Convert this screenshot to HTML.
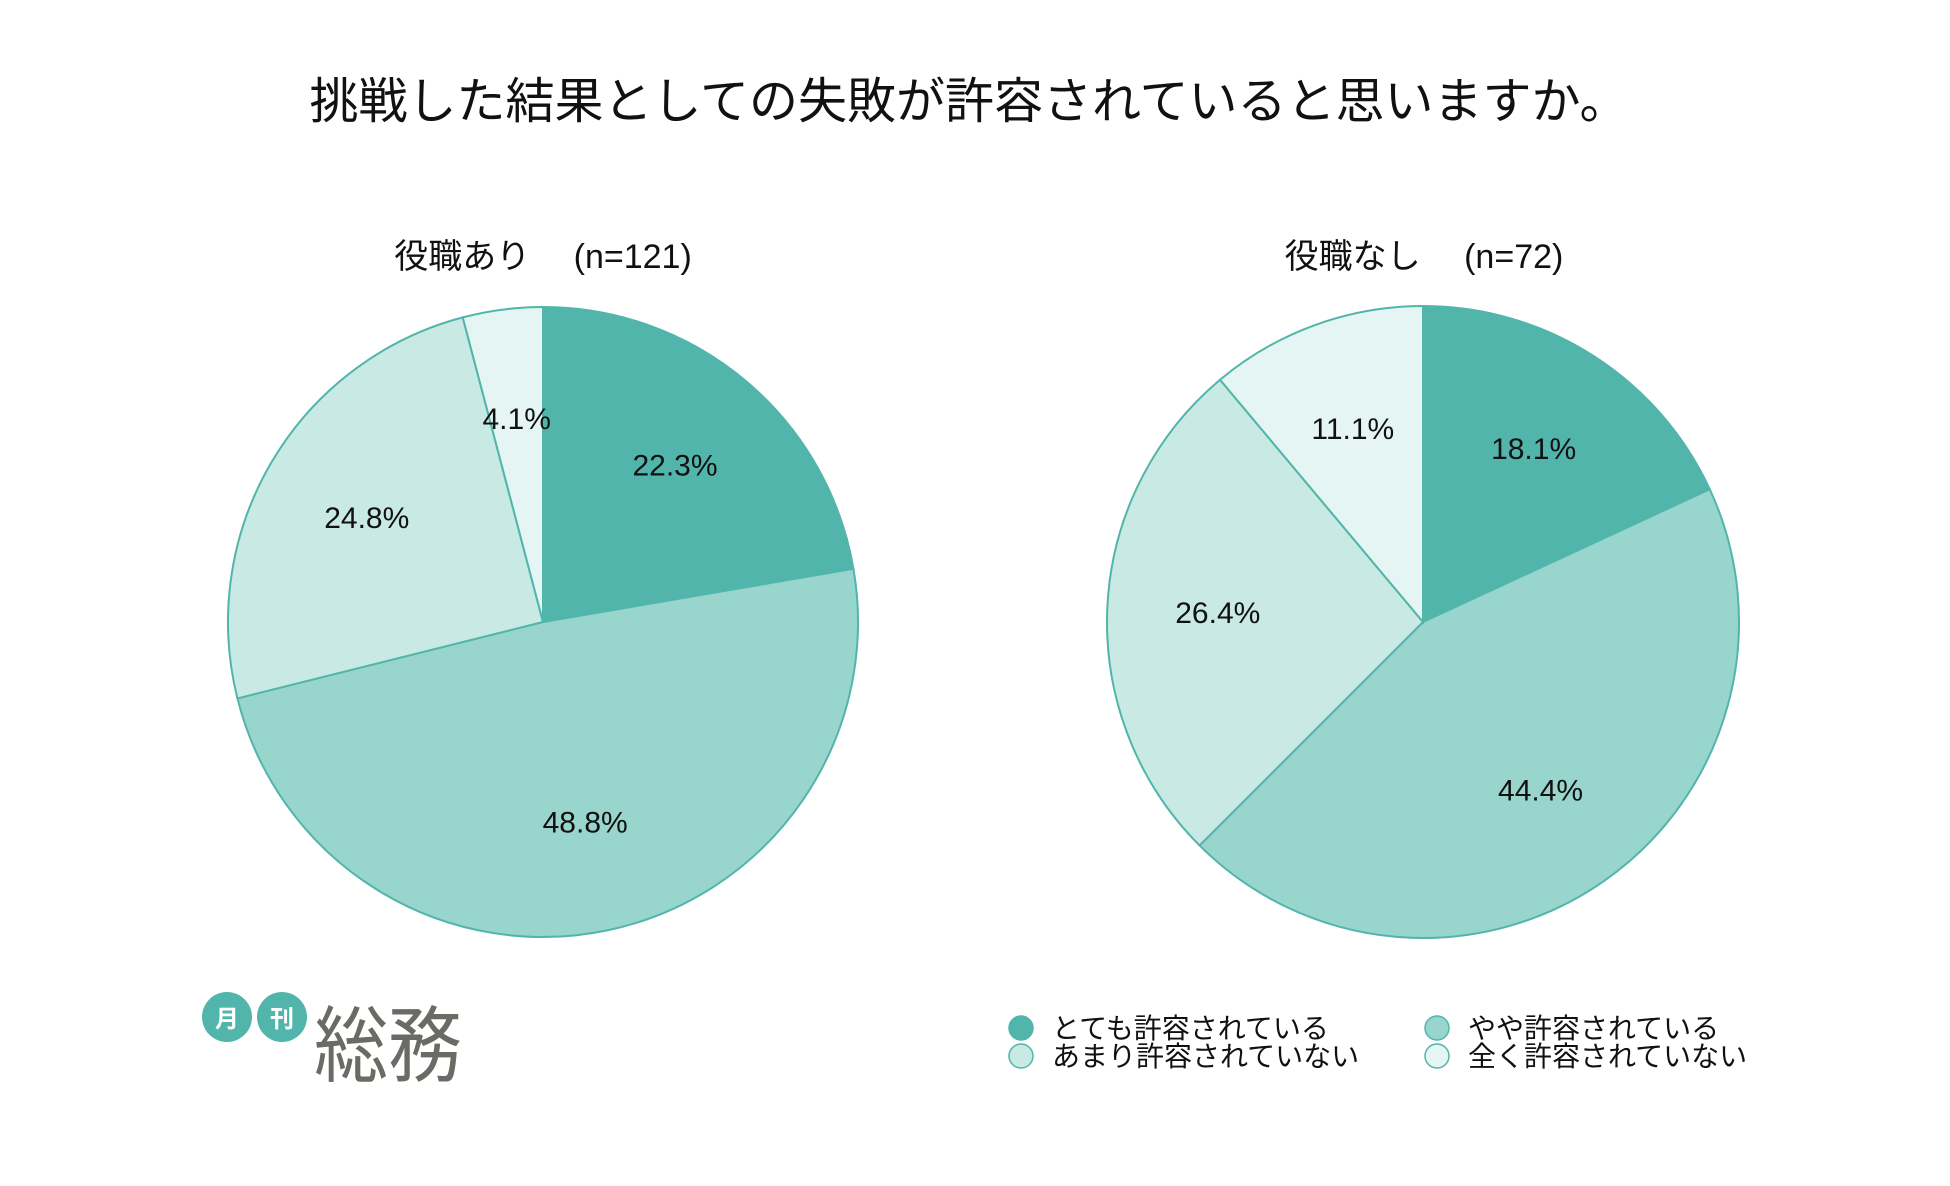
<!DOCTYPE html>
<html><head><meta charset="utf-8">
<style>
html,body{margin:0;padding:0;background:#fff;}
body{width:1950px;height:1186px;position:relative;overflow:hidden;font-family:"Liberation Sans","Noto Sans CJK JP",sans-serif;}
svg{position:absolute;left:0;top:0;}
</style></head>
<body>
<svg id="chart" width="1950" height="1186" viewBox="0 0 1950 1186">
  <text x="969" y="118" text-anchor="middle" font-size="49" fill="#111">挑戦した結果としての失敗が許容されていると思いますか。</text>
  <text x="543" y="268" text-anchor="middle" font-size="34" fill="#111">役職あり　 (n=121)</text>
  <text x="1424" y="268" text-anchor="middle" font-size="34" fill="#111">役職なし　 (n=72)</text>
  <g id="pies"></g>
  <g id="legend"></g>
  <g>
    <circle cx="227" cy="1017" r="25" fill="#52b5ab"/>
    <text x="227" y="1027" text-anchor="middle" font-size="24" font-weight="bold" fill="#fff">月</text>
    <circle cx="282" cy="1017" r="25" fill="#52b5ab"/>
    <text x="282" y="1027" text-anchor="middle" font-size="24" font-weight="bold" fill="#fff">刊</text>
    <text x="314" y="1076" font-size="74" fill="#6b6b66" transform="translate(0,-130) scale(1,1.12)">総務</text>
  </g>
</svg>
<script>
const categories = ["とても許容されている","やや許容されている","あまり許容されていない","全く許容されていない"];
const leftValues = [22.3, 48.8, 24.8, 4.1];
const rightValues = [18.1, 44.4, 26.4, 11.1];
const colors = ["#52b5ab","#98d5cc","#c8e9e4","#e5f5f3"];
const NS = "http://www.w3.org/2000/svg";
const pies = document.getElementById('pies');
function drawPie(values, cx, cy, r, name){
  const g = document.createElementNS(NS,'g');
  
  
  const total = values.reduce((a,b)=>a+b,0);
  let a0 = 0;
  values.forEach((v,i)=>{
    const a1 = a0 + v/total*2*Math.PI;
    const x0 = cx + r*Math.sin(a0), y0 = cy - r*Math.cos(a0);
    const x1 = cx + r*Math.sin(a1), y1 = cy - r*Math.cos(a1);
    const large = (a1-a0) > Math.PI ? 1 : 0;
    const p = document.createElementNS(NS,'path');
    p.setAttribute('d', `M${cx},${cy} L${x0},${y0} A${r},${r} 0 ${large} 1 ${x1},${y1} Z`);
    p.setAttribute('fill', colors[i]);
    p.setAttribute('stroke', '#52b5ab');
    p.setAttribute('stroke-width', '2');
    
    
    g.appendChild(p);
    const am = (a0+a1)/2;
    const t = document.createElementNS(NS,'text');
    t.setAttribute('x', cx + 0.65*r*Math.sin(am));
    t.setAttribute('y', cy - 0.65*r*Math.cos(am) + 10);
    t.setAttribute('text-anchor','middle');
    t.setAttribute('font-size','30');
    t.setAttribute('fill','#111');
    
    
    t.textContent = v.toFixed(1) + '%';
    g.appendChild(t);
    a0 = a1;
  });
  pies.appendChild(g);
}
drawPie(leftValues, 543, 622, 315, 'left-pie');
drawPie(rightValues, 1423, 622, 316, 'right-pie');
const legend = document.getElementById('legend');
const lx = [1021, 1437], ly = [1028, 1056];
categories.forEach((c,i)=>{
  const x = lx[i%2], y = ly[Math.floor(i/2)];
  const dot = document.createElementNS(NS,'circle');
  dot.setAttribute('cx', x); dot.setAttribute('cy', y); dot.setAttribute('r', 12);
  dot.setAttribute('fill', colors[i]); dot.setAttribute('stroke', '#52b5ab'); dot.setAttribute('stroke-width','1.5');
  
  
  legend.appendChild(dot);
  const t = document.createElementNS(NS,'text');
  t.setAttribute('x', x + 31); t.setAttribute('y', y + 10);
  t.setAttribute('font-size','28'); t.setAttribute('fill','#111');
  
  
  t.textContent = c;
  legend.appendChild(t);
});
</script>
</body></html>
